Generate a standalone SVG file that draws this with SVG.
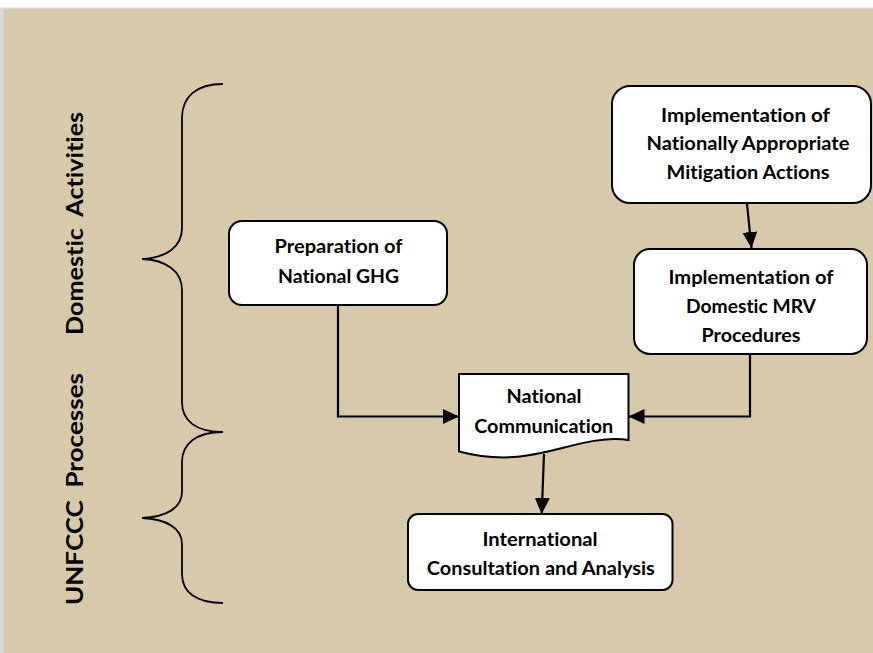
<svg xmlns="http://www.w3.org/2000/svg" width="873" height="653" viewBox="0 0 873 653">
<style>
.box{fill:#ffffff;stroke:#000000;stroke-width:2}
.t{font-family:Lato,"Open Sans","Liberation Sans",sans-serif;font-weight:bold;font-size:19.5px;fill:#000000;text-anchor:middle;font-variant-ligatures:none;font-feature-settings:"liga" 0,"clig" 0}
.side{font-family:Lato,"Open Sans","Liberation Sans",sans-serif;font-weight:bold;font-size:22px;fill:#000000;text-anchor:middle;font-variant-ligatures:none;font-feature-settings:"liga" 0,"clig" 0}
.brace{fill:none;stroke:#000000;stroke-width:1.8}
.conn{fill:none;stroke:#000000;stroke-width:2.2}
</style>
<defs>
<marker id="arr" markerUnits="userSpaceOnUse" markerWidth="17" markerHeight="15" refX="16" refY="7.5" orient="auto">
<path d="M0,0 L16,7.5 L0,15 Z" fill="#000000"/>
</marker>
</defs>
<rect x="0" y="0" width="873" height="653" fill="#ffffff"/>
<rect x="0" y="7.5" width="873" height="645.5" fill="#dadada"/>
<rect x="3.5" y="9" width="869.5" height="644" fill="#d9c9ab"/>

<g id="labels">
<text class="side" xml:space="preserve" transform="translate(82.5,223.4) rotate(-90)" textLength="223" lengthAdjust="spacingAndGlyphs">Domestic  Activities</text>
<text class="side" xml:space="preserve" transform="translate(82.5,489) rotate(-90)" textLength="232" lengthAdjust="spacingAndGlyphs">UNFCCC  Processes</text>
</g>

<g id="braces">
<path class="brace" d="M223,84 C196,84 182,97 182,118 V228 C182,247 166,258 142,259 C166,260 182,271 182,290 V402 C182,421 196,432 223,432"/>
<path class="brace" d="M223,432 C196,432 182,444 182,462 V492 C182,508 166,517 142,518 C166,519 182,528 182,544 V574 C182,592 196,603 223,603"/>
</g>

<g id="connectors">
<path class="conn" d="M338,305 V416.5 H459" marker-end="url(#arr)"/>
<path class="conn" d="M750,354 V416.5 H628.5" marker-end="url(#arr)"/>
<path class="conn" d="M747,204 L751.5,248" marker-end="url(#arr)"/>
<path class="conn" d="M544,454 L541.7,514" marker-end="url(#arr)"/>
</g>

<g id="node-prep">
<rect class="box" x="229" y="221" width="218" height="84" rx="13"/>
<text class="t" x="338.5" y="253.3" textLength="128" lengthAdjust="spacingAndGlyphs">Preparation of</text>
<text class="t" x="338.5" y="282.5" textLength="121" lengthAdjust="spacingAndGlyphs">National GHG</text>
</g>

<g id="node-nama">
<rect class="box" x="612" y="86" width="259" height="117" rx="18"/>
<text class="t" x="745.5" y="121.5" textLength="169" lengthAdjust="spacingAndGlyphs">Implementation of</text>
<text class="t" x="748" y="150" textLength="203" lengthAdjust="spacingAndGlyphs">Nationally Appropriate</text>
<text class="t" x="748" y="179" textLength="163" lengthAdjust="spacingAndGlyphs">Mitigation Actions</text>
</g>

<g id="node-mrv">
<rect class="box" x="634" y="249" width="233" height="105" rx="16"/>
<text class="t" x="751" y="284" textLength="165" lengthAdjust="spacingAndGlyphs">Implementation of</text>
<text class="t" x="751" y="313" textLength="130" lengthAdjust="spacingAndGlyphs">Domestic MRV</text>
<text class="t" x="751" y="341.5" textLength="99" lengthAdjust="spacingAndGlyphs">Procedures</text>
</g>

<g id="node-nc">
<path class="box" d="M459,374 H628.5 V440 C592,435 560,452 520,456.5 C496,459 476,456 459,451.5 Z"/>
<text class="t" x="544" y="403.3" textLength="75" lengthAdjust="spacingAndGlyphs">National</text>
<text class="t" x="543.7" y="433" textLength="139" lengthAdjust="spacingAndGlyphs">Communication</text>
</g>

<g id="node-ica">
<rect class="box" x="408" y="514" width="264.5" height="76" rx="10"/>
<text class="t" x="540" y="545.5" textLength="115" lengthAdjust="spacingAndGlyphs">International</text>
<text class="t" x="540.8" y="575" textLength="228" lengthAdjust="spacingAndGlyphs">Consultation and Analysis</text>
</g>
</svg>
